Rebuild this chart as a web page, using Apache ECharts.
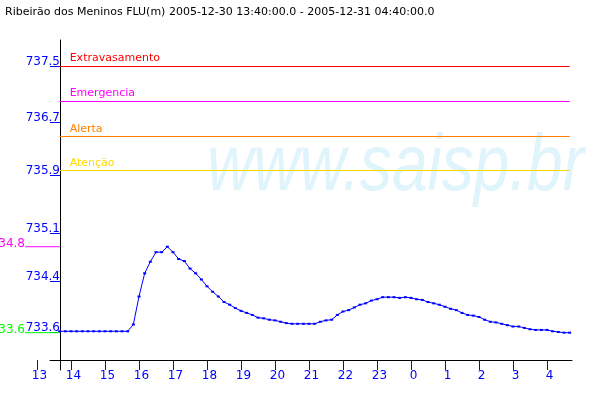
<!DOCTYPE html>
<html>
<head>
<meta charset="utf-8">
<script src="https://cdn.jsdelivr.net/npm/echarts@6/dist/echarts.min.js"></script>
<style>
html,body{margin:0;padding:0;background:#fff;}
#c{width:600px;height:400px;}
</style>
</head>
<body>
<div id="c"></div>
<script>
// ---- data ----
const chartTitle = 'Ribeirão dos Meninos FLU(m) 2005-12-30 13:40:00.0 - 2005-12-31 04:40:00.0';
const watermarkText = 'www.saisp.br';
const startHour = 13 + 40 / 60;   // 2005-12-30 13:40
const stepHours = 10 / 60;        // readings every 10 minutes
const levels = [
  733.61, 733.61, 733.61, 733.61, 733.61, 733.61, 733.61, 733.61, 733.61, 733.61,
  733.61, 733.61, 733.61, 733.71, 734.12, 734.46, 734.63, 734.77, 734.77, 734.85,
  734.77, 734.67, 734.64, 734.53, 734.46, 734.37, 734.27, 734.19, 734.12, 734.04,
  734.00, 733.95, 733.91, 733.88, 733.85, 733.81, 733.80, 733.78, 733.77, 733.75,
  733.73, 733.72, 733.72, 733.72, 733.72, 733.72, 733.75, 733.77, 733.78, 733.85,
  733.90, 733.92, 733.96, 734.00, 734.02, 734.06, 734.08, 734.11, 734.11, 734.11,
  734.10, 734.11, 734.10, 734.08, 734.07, 734.04, 734.02, 734.00, 733.97, 733.94,
  733.92, 733.88, 733.85, 733.84, 733.82, 733.78, 733.75, 733.74, 733.72, 733.70,
  733.68, 733.68, 733.66, 733.64, 733.63, 733.63, 733.63, 733.61, 733.60, 733.59,
  733.59
];
const thresholdNames  = ['Extravasamento', 'Emergencia', 'Alerta', 'Atenção'];
const thresholdValues = [737.5, 736.99, 736.47, 735.97];
const thresholdColors = ['#ff0000', '#ff00ff', '#ff8000', '#ffd800'];
const xTickValues = [13, 14, 15, 16, 17, 18, 19, 20, 21, 22, 23, 24, 25, 26, 27, 28];
const yTickValues = [733.60, 734.348, 735.051, 735.902, 736.679, 737.5];
const yTickLabels = ['733.6', '734.4', '735.1', '735.9', '736.7', '737.5'];
const maxLabel = '734.8';
const minLabel = '733.6';

// ---- build ----
const points = levels.map((v, i) => [startHour + i * stepHours, v]);
const endHour = startHour + (levels.length - 1) * stepHours;
const xMin = 13, xMax = 13 + 535 / 34;
const yMin = 733.0425, yMax = 737.8812;
const BLUE = '#0000ff';
const FONT = 'DejaVu Sans';

const chart = echarts.init(document.getElementById('c'), null, {renderer: 'canvas'});
chart.setOption({
  animation: false,
  backgroundColor: '#ffffff',
  grid: [
    {left: 37, right: 28, top: 40, bottom: 30, containLabel: false},
    {left: 50, right: 28, top: 40, bottom: 30, containLabel: false}
  ],
  xAxis: [
    {
      type: 'value', gridIndex: 0, min: xMin, max: xMax, offset: -10,
      axisLine: {show: false},
      splitLine: {show: false},
      axisTick: {show: true, length: 10, customValues: xTickValues, lineStyle: {color: BLUE, width: 1}},
      axisLabel: {show: true, customValues: xTickValues, margin: 10, color: BLUE, fontFamily: FONT, fontSize: 12,
        padding: [0, 0, 0, 5], formatter: v => String(Math.round(v) % 24)}
    },
    {
      type: 'value', gridIndex: 1, min: xMin + 13 / 34, max: xMax, offset: -10,
      axisLine: {show: true, onZero: false, lineStyle: {color: '#000', width: 1}},
      splitLine: {show: false}, axisTick: {show: false}, axisLabel: {show: false}
    }
  ],
  yAxis: [
    {
      type: 'value', gridIndex: 0, min: yMin, max: yMax, offset: -23,
      axisLine: {show: true, onZero: false, lineStyle: {color: '#000', width: 1}},
      splitLine: {show: false},
      axisTick: {show: true, length: 10, customValues: yTickValues, lineStyle: {color: BLUE, width: 1}},
      axisLabel: {show: true, customValues: yTickValues, margin: 0, color: BLUE, fontFamily: FONT, fontSize: 12,
        verticalAlign: 'bottom', lineHeight: 8,
        formatter: v => {
          let best = 0;
          yTickValues.forEach((t, i) => { if (Math.abs(t - v) < Math.abs(yTickValues[best] - v)) best = i; });
          return yTickLabels[best];
        }}
    },
    {type: 'value', gridIndex: 1, min: yMin, max: yMax, show: false}
  ],
  series: [{
    type: 'line',
    xAxisIndex: 0, yAxisIndex: 0,
    data: points,
    color: BLUE,
    lineStyle: {color: BLUE, width: 1},
    itemStyle: {color: BLUE},
    symbol: 'rect',
    symbolSize: [3, 2],
    showSymbol: true,
    z: 5,
    markLine: {
      silent: true,
      symbol: 'none',
      animation: false,
      data: thresholdValues.map((v, i) => ([
        {coord: [startHour, v], name: thresholdNames[i],
          lineStyle: {color: thresholdColors[i], width: 1, type: 'solid'},
          label: {show: true, position: 'insideStartTop', formatter: thresholdNames[i], color: thresholdColors[i],
            fontFamily: FONT, fontSize: 11, distance: [10, 2]}},
        {coord: [endHour, v]}
      ]))
    }
  }]
});

// max / min markers placed through the axis scale
const yMaxPx = chart.convertToPixel({yAxisIndex: 0}, Math.max(...levels));
const yMinPx = chart.convertToPixel({yAxisIndex: 0}, Math.min(...levels));
chart.setOption({
  graphic: [
    {type: 'text', left: 5, top: 7, z: 10,
      style: {text: chartTitle, fill: '#000', font: '11px "DejaVu Sans"'}},
    {type: 'text', x: 207, y: 128, scaleX: 0.8, scaleY: 1, z: -10, silent: true,
      style: {text: watermarkText, fill: '#e0f4fc', font: 'italic 80px "Liberation Sans"'}},
    {type: 'line', z: 10, shape: {x1: 25, y1: yMaxPx, x2: 60, y2: yMaxPx}, style: {stroke: '#ff00ff', lineWidth: 1}},
    {type: 'text', z: 10, x: 25, y: yMaxPx + 3,
      style: {text: maxLabel, fill: '#ff00ff', font: '12px "DejaVu Sans"', textAlign: 'right', textVerticalAlign: 'bottom'}},
    {type: 'line', z: 10, shape: {x1: 25, y1: yMinPx, x2: 60, y2: yMinPx}, style: {stroke: '#00ff00', lineWidth: 1}},
    {type: 'text', z: 10, x: 25, y: yMinPx + 3,
      style: {text: minLabel, fill: '#00ff00', font: '12px "DejaVu Sans"', textAlign: 'right', textVerticalAlign: 'bottom'}}
  ]
});
</script>
</body>
</html>
